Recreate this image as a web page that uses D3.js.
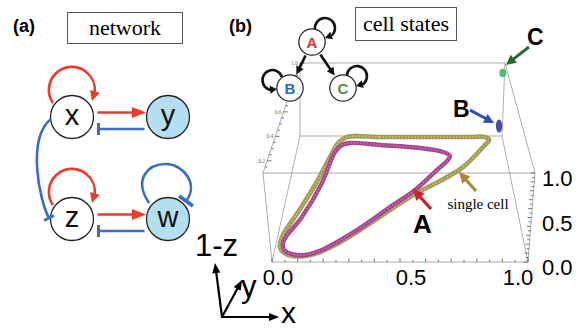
<!DOCTYPE html>
<html><head><meta charset="utf-8">
<script src="https://cdn.jsdelivr.net/npm/d3@7/dist/d3.min.js"></script>
<style>body{margin:0;background:#fff}svg{display:block}</style>
</head><body><svg id="c" width="582" height="328"></svg>
<script>
// ---------------- data ----------------
// panel (a): gene network
const networkNodes = ["x", "y", "z", "w"];
const nodeCol = [0, 1, 0, 1];
const nodeRow = [0, 0, 1, 1];
const nodeShaded = [false, true, false, true];
const activations = [["x", "y"], ["z", "w"]];
const inhibitions = [["y", "x"], ["w", "z"]];
const selfActivations = ["x", "z"];
const selfInhibitions = ["w"];
const crossInhibitions = [["x", "z"]];

// panel (b): cell states
const cellStates = ["A", "B", "C"];
const stateTransitions = [["A", "B"], ["A", "C"]];

// axes of the 3D box
const xTickLabels = ["0.0", "0.5", "1.0"];
const xTickValues = [0, 0.5, 1];
const hTickLabels = ["0.0", "0.5", "1.0"];
const hTickValues = [0, 0.5, 1];
const depthTickLabels = ["0.2", "0.4", "0.6", "1.0"];
const depthTickValues = [0.2, 0.4, 0.6, 1.0];

// trajectories, projected on the picture plane (x, height)
const singleCellX = [0.293, 0.42, 0.578, 0.773, 0.832, 0.848, 0.828, 0.746, 0.656, 0.559, 0.461, 0.344, 0.246, 0.188, 0.129, 0.078, 0.043, 0.031, 0.039, 0.102, 0.168, 0.227, 0.258];
const singleCellV = [0.628, 0.628, 0.628, 0.628, 0.628, 0.613, 0.583, 0.477, 0.407, 0.342, 0.261, 0.161, 0.085, 0.050, 0.030, 0.030, 0.050, 0.075, 0.126, 0.251, 0.387, 0.528, 0.598];
const stateAX = [0.305, 0.422, 0.578, 0.668, 0.695, 0.684, 0.648, 0.559, 0.461, 0.344, 0.246, 0.195, 0.129, 0.078, 0.051, 0.043, 0.047, 0.117, 0.195, 0.246, 0.273];
const stateAV = [0.598, 0.588, 0.573, 0.553, 0.533, 0.508, 0.467, 0.362, 0.276, 0.171, 0.095, 0.060, 0.035, 0.040, 0.055, 0.075, 0.111, 0.226, 0.397, 0.553, 0.588];
const stateBPoint = [0.887, 0.683];
const stateCPoint = [0.902, 0.950];

// ---------------- drawing ----------------
const svg = d3.select("#c");
svg.append("rect").attr("width", 582).attr("height", 328).attr("fill", "#fff");
const SANS = "'Liberation Sans', Arial, sans-serif";
const SERIF = "'Liberation Serif', 'Times New Roman', serif";
const RED = "#e63d2c", BLUE = "#3b6ec3";

function arrowPath(g, d, color, sw, hl, hw) {
  const p = g.append("path").attr("d", d).attr("fill", "none").attr("stroke", color).attr("stroke-width", sw);
  const L = p.node().getTotalLength();
  const tip = p.node().getPointAtLength(L);
  const b = p.node().getPointAtLength(Math.max(0, L - hl));
  p.attr("stroke-dasharray", `${L - hl + 1} ${L}`);
  const n = Math.hypot(tip.x - b.x, tip.y - b.y), ux = (tip.x - b.x) / n, uy = (tip.y - b.y) / n;
  const bx = tip.x - ux * hl, by = tip.y - uy * hl;
  g.append("path").attr("d", `M${tip.x},${tip.y}L${bx - uy * hw / 2},${by + ux * hw / 2}L${bx + uy * hw / 2},${by - ux * hw / 2}Z`).attr("fill", color);
}
function barPath(g, d, color, sw, bl, bsw) {
  const p = g.append("path").attr("d", d).attr("fill", "none").attr("stroke", color).attr("stroke-width", sw);
  const L = p.node().getTotalLength();
  const e = p.node().getPointAtLength(L), b = p.node().getPointAtLength(L - 3);
  const n = Math.hypot(e.x - b.x, e.y - b.y), ux = (e.x - b.x) / n, uy = (e.y - b.y) / n;
  g.append("line").attr("x1", e.x - uy * bl / 2).attr("y1", e.y + ux * bl / 2)
    .attr("x2", e.x + uy * bl / 2).attr("y2", e.y - ux * bl / 2)
    .attr("stroke", color).attr("stroke-width", bsw || sw);
}

// ===== panel (a) =====
const ga = svg.append("g");
ga.append("text").attr("x", 13).attr("y", 32).attr("font-family", SANS).attr("font-weight", "bold").attr("font-size", 18).text("(a)");
ga.append("rect").attr("x", 67.5).attr("y", 12.5).attr("width", 115).attr("height", 31).attr("fill", "#fff").attr("stroke", "#555").attr("stroke-width", 1);
ga.append("text").attr("x", 125).attr("y", 35).attr("text-anchor", "middle").attr("font-family", SERIF).attr("font-size", 22).text("network");

const colS = d3.scaleLinear().domain([0, 1]).range([72, 168]);
const rowS = d3.scaleLinear().domain([0, 1]).range([117, 219]);
const R = 21.5;
const pos = {};
networkNodes.forEach((n, i) => pos[n] = { x: colS(nodeCol[i]), y: rowS(nodeRow[i]), shaded: nodeShaded[i] });

networkNodes.forEach(n => {
  const p = pos[n];
  ga.append("circle").attr("cx", p.x).attr("cy", p.y).attr("r", R)
    .attr("fill", p.shaded ? "#b4dff0" : "#fff").attr("stroke", "#222").attr("stroke-width", 1.3);
  ga.append("text").attr("x", p.x).attr("y", p.y + 8).attr("text-anchor", "middle")
    .attr("font-family", SANS).attr("font-size", 29).attr("fill", "#111").text(n);
});
activations.forEach(([a, b]) => {
  const A = pos[a], B = pos[b], y = A.y - 4.5;
  arrowPath(ga, `M${A.x + R + 4},${y}L${B.x - R - 0.5},${y}`, RED, 2.6, 14, 11);
});
inhibitions.forEach(([a, b]) => {
  const A = pos[a], B = pos[b], y = B.y + 12;
  barPath(ga, `M${A.x - R - 2},${y}L${B.x + R + 5},${y}`, BLUE, 2.6, 12, 3);
});
selfActivations.forEach(n => {
  const p = pos[n];
  arrowPath(ga, `M${p.x - 19},${p.y - 14}A23,23 0 1,1 ${p.x + 20},${p.y - 16}`, RED, 2.6, 10, 10);
});
selfInhibitions.forEach(n => {
  const p = pos[n];
  barPath(ga, `M${p.x - 19},${p.y - 16}C${p.x - 35},${p.y - 40} ${p.x - 20},${p.y - 55} ${p.x - 2},${p.y - 55}C${p.x + 16},${p.y - 55} ${p.x + 31},${p.y - 34} ${p.x + 18},${p.y - 18}`, BLUE, 2.6, 17, 3.8);
});
crossInhibitions.forEach(([a, b]) => {
  const A = pos[a], B = pos[b];
  barPath(ga, `M${A.x - 21},${A.y + 2}C${A.x - 46},${A.y + 22} ${B.x - 32},${B.y - 17} ${B.x - 23},${B.y - 1}`, BLUE, 2.6, 11, 3);
});

// coordinate indicator
const gi = svg.append("g");
const O = [222, 317];
arrowPath(gi, `M${O[0]},${O[1]}L215,263`, "#000", 2.2, 10, 8);
arrowPath(gi, `M${O[0]},${O[1]}L242,280`, "#000", 2.2, 10, 8);
arrowPath(gi, `M${O[0] - 1},${O[1]}L279,${O[1]}`, "#000", 2.2, 10, 8);
gi.append("text").attr("x", 195).attr("y", 256).attr("font-family", SANS).attr("font-size", 31).text("1-z");
gi.append("text").attr("x", 241).attr("y", 297).attr("font-family", SANS).attr("font-size", 31).text("y");
gi.append("text").attr("x", 281).attr("y", 323).attr("font-family", SANS).attr("font-size", 30).text("x");

// ===== panel (b) =====
const gb = svg.append("g");
gb.append("text").attr("x", 229).attr("y", 32).attr("font-family", SANS).attr("font-weight", "bold").attr("font-size", 18).text("(b)");
gb.append("rect").attr("x", 355.5).attr("y", 7.5).attr("width", 101).attr("height", 33).attr("fill", "#fff").attr("stroke", "#555").attr("stroke-width", 1);
gb.append("text").attr("x", 406).attr("y", 31).attr("text-anchor", "middle").attr("font-family", SERIF).attr("font-size", 22).text("cell states");

// 3D box: projection of unit cube (x, depth, height) onto the picture
const corner = {
  "000": [272, 262], "100": [528, 262], "010": [300, 136], "110": [502, 136],
  "001": [263, 173], "101": [535, 173], "011": [300, 63], "111": [505, 63]
};
function proj(x, y, h) {
  const lerp = (a, b, t) => [a[0] + (b[0] - a[0]) * t, a[1] + (b[1] - a[1]) * t];
  const c = k => corner[k];
  const b0 = lerp(lerp(c("000"), c("100"), x), lerp(c("010"), c("110"), x), y);
  const b1 = lerp(lerp(c("001"), c("101"), x), lerp(c("011"), c("111"), x), y);
  return lerp(b0, b1, h);
}
const gBox = gb.append("g").attr("stroke", "#9a9a9a").attr("stroke-width", 0.8).attr("fill", "none");
const cubeEdges = [
  [[0,0,0],[1,0,0]], [[0,1,0],[1,1,0]], [[0,0,1],[1,0,1]], [[0,1,1],[1,1,1]],
  [[0,0,0],[0,1,0]], [[1,0,0],[1,1,0]], [[0,0,1],[0,1,1]], [[1,0,1],[1,1,1]],
  [[0,0,0],[0,0,1]], [[1,0,0],[1,0,1]], [[0,1,0],[0,1,1]], [[1,1,0],[1,1,1]]
];
cubeEdges.forEach(([a, b]) => {
  const p = proj(...a), q = proj(...b);
  gBox.append("line").attr("x1", p[0]).attr("y1", p[1]).attr("x2", q[0]).attr("y2", q[1]);
});
// x-axis ticks (front bottom edge)
const xS = d3.scaleLinear().domain([0, 1]).range([0, 1]);
const gT = gb.append("g").attr("stroke", "#555").attr("stroke-width", 0.8);
d3.range(0, 1.0001, 0.05).forEach(t => {
  const p = proj(xS(t), 0, 0), len = Math.abs(t * 10 - Math.round(t * 10)) < 1e-6 ? 3.5 : 2;
  gT.append("line").attr("x1", p[0]).attr("y1", p[1]).attr("x2", p[0]).attr("y2", p[1] - len);
});
// height ticks (front right vertical edge)
const hS = d3.scaleLinear().domain([0, 1]).range([0, 1]);
d3.range(0, 1.0001, 0.05).forEach(t => {
  const p = proj(1, 0, hS(t)), len = Math.abs(t * 10 - Math.round(t * 10)) < 1e-6 ? 4 : 2.5;
  gT.append("line").attr("x1", p[0]).attr("y1", p[1]).attr("x2", p[0] - len).attr("y2", p[1]);
});
// depth ticks (top left edge)
const dS = d3.scaleLinear().domain([0.1, 1]).range([0, 1]);
d3.range(0.15, 1.0001, 0.05).forEach(t => {
  const p = proj(0, dS(t), 1), major = Math.abs(t * 5 - Math.round(t * 5)) < 1e-6;
  gT.append("line").attr("x1", p[0]).attr("y1", p[1]).attr("x2", p[0] + (major ? 4.5 : 2.5)).attr("y2", p[1]);
});
depthTickValues.forEach((v, i) => {
  const p = proj(0, dS(v), 1);
  gb.append("text").attr("x", p[0] - 2).attr("y", p[1] + 2).attr("text-anchor", "end")
    .attr("font-family", SERIF).attr("font-size", 5.5).attr("fill", "#666").text(depthTickLabels[i]);
});
const xLabelS = d3.scaleLinear().domain([0, 0.5, 1]).range([278, 411, 518]);
xTickValues.forEach((v, i) => {
  gb.append("text").attr("x", xLabelS(v)).attr("y", 285).attr("text-anchor", "middle")
    .attr("font-family", SANS).attr("font-size", 22).text(xTickLabels[i]);
});
hTickValues.forEach((v, i) => {
  const p = proj(1, 0, hS(v));
  gb.append("text").attr("x", 542).attr("y", p[1] + 13).attr("font-family", SANS).attr("font-size", 22).text(hTickLabels[i]);
});

// trajectories
const px = d3.scaleLinear().domain([0, 1]).range([272, 528]);
const pv = d3.scaleLinear().domain([0, 1]).range([262, 63]);
const line = d3.line().x(d => px(d[0])).y(d => pv(d[1])).curve(d3.curveCatmullRomClosed.alpha(0.5));
const olive = singleCellX.map((x, i) => [x, singleCellV[i]]);
const magenta = stateAX.map((x, i) => [x, stateAV[i]]);
gb.append("path").attr("d", line(olive)).attr("fill", "none").attr("stroke", "#a29a52").attr("stroke-width", 4.6);
gb.append("path").attr("d", line(olive)).attr("fill", "none").attr("stroke", "#c9c283").attr("stroke-width", 1.8).attr("stroke-dasharray", "1.3 1.9");
gb.append("path").attr("d", line(magenta)).attr("fill", "none").attr("stroke", "#a5458f").attr("stroke-width", 4.4);
gb.append("path").attr("d", line(magenta)).attr("fill", "none").attr("stroke", "#c875b4").attr("stroke-width", 1.7).attr("stroke-dasharray", "1.3 1.9");

// stable states B and C
gb.append("ellipse").attr("cx", px(stateBPoint[0])).attr("cy", pv(stateBPoint[1])).attr("rx", 3.2).attr("ry", 6.5).attr("fill", "#4a4bb0");
gb.append("ellipse").attr("cx", px(stateCPoint[0])).attr("cy", pv(stateCPoint[1])).attr("rx", 3.6).attr("ry", 4.2).attr("fill", "#4dbb7a");

// annotations
const bx = px(stateBPoint[0]), by = pv(stateBPoint[1]);
arrowPath(gb, `M${bx - 29},${by - 16}L${bx - 5},${by - 3}`, "#2c4fb3", 3, 10, 10);
gb.append("text").attr("x", 453).attr("y", 117).attr("font-family", SANS).attr("font-weight", "bold").attr("font-size", 23).text("B");
const cx = px(stateCPoint[0]), cy = pv(stateCPoint[1]);
arrowPath(gb, `M${cx + 26},${cy - 26}L${cx + 3},${cy - 8}`, "#2b6a2b", 3, 10, 10);
gb.append("text").attr("x", 527).attr("y", 45).attr("font-family", SANS).attr("font-weight", "bold").attr("font-size", 23).text("C");
arrowPath(gb, `M431,209L413,189`, "#c6242a", 3.2, 11, 11);
gb.append("text").attr("x", 413).attr("y", 233).attr("font-family", SANS).attr("font-weight", "bold").attr("font-size", 26).text("A");
arrowPath(gb, `M476,191L459,172`, "#ad8a3c", 3.2, 11, 11);
gb.append("text").attr("x", 478).attr("y", 209).attr("text-anchor", "middle").attr("font-family", SERIF).attr("font-size", 15).text("single cell");

// state graph
const sPos = { A: [312, 42], B: [290, 88], C: [343, 88] };
const sColor = { A: "#e0312f", B: "#2f63c4", C: "#5c8b3a" };
const gs = gb.append("g");
cellStates.forEach(s => {
  gs.append("circle").attr("cx", sPos[s][0]).attr("cy", sPos[s][1]).attr("r", 13.2).attr("fill", "#fff").attr("stroke", "#222").attr("stroke-width", 1.2);
  gs.append("text").attr("x", sPos[s][0]).attr("y", sPos[s][1] + 5.5).attr("text-anchor", "middle")
    .attr("font-family", SANS).attr("font-weight", "bold").attr("font-size", 15).attr("fill", sColor[s]).text(s);
});
stateTransitions.forEach(([a, b]) => {
  const A = sPos[a], B = sPos[b];
  const dx = B[0] - A[0], dy = B[1] - A[1], L = Math.hypot(dx, dy), ux = dx / L, uy = dy / L;
  arrowPath(gs, `M${A[0] + ux * 15},${A[1] + uy * 15}L${B[0] - ux * 15},${B[1] - uy * 15}`, "#111", 2.6, 8, 8);
});
// self loops
const loopA = sPos.A, loopB = sPos.B, loopC = sPos.C;
arrowPath(gs, `M${loopA[0] + 3},${loopA[1] - 13}A10,10 0 1,1 ${loopA[0] + 13},${loopA[1] - 4}`, "#111", 2.6, 7, 8);
arrowPath(gs, `M${loopB[0] - 8},${loopB[1] - 11}A10,10 0 1,0 ${loopB[0] - 13},${loopB[1] + 1}`, "#111", 2.6, 7, 8);
arrowPath(gs, `M${loopC[0] + 4},${loopC[1] - 13}A10,10 0 1,1 ${loopC[0] + 13},${loopC[1] - 2}`, "#111", 2.6, 7, 8);
</script></body></html>
